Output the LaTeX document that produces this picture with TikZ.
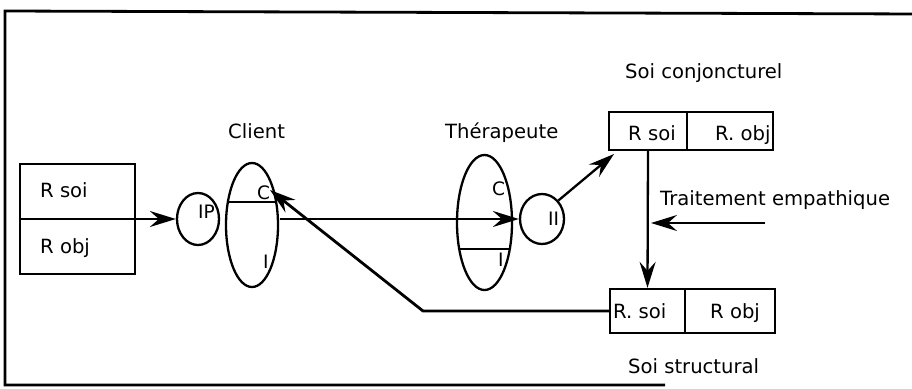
\documentclass[tikz,border=0pt]{standalone}
\usepackage{fontspec}
\setmainfont{DejaVu Sans}
\usetikzlibrary{arrows.meta,shapes.geometric,calc}
\begin{document}
\begin{tikzpicture}[x=1pt,y=-1pt,
  txt/.style={font=\fontsize{19.6}{23}\selectfont, inner sep=0pt, anchor=base west},
  stxt/.style={font=\fontsize{18.5}{22}\selectfont, inner sep=0pt, anchor=base west},
  rbox/.style={draw, line width=2.3pt, rectangle, inner sep=0pt},
  ell/.style={draw, line width=2.3pt, ellipse, inner sep=0pt},
  arr/.style={line width=2.3pt, -{Stealth[length=26pt,width=16pt,inset=9pt]}},
  plain/.style={line width=2.3pt}]
\useasboundingbox (0,0) rectangle (912,388);
% frame
\draw[line width=2.8pt] (920,14) -- (5,11) -- (5,385) -- (665,385);

% left box
\node[rbox, minimum width=115pt, minimum height=110pt] (lb) at (77.5,219) {};
\node[txt] (lbs) at (40,197) {R soi};
\node[txt] (lbo) at (40,253) {R obj};

% IP circle
\node[ell, minimum width=42pt, minimum height=52pt] (ip) at (198,219) {};
\node[stxt] (ipt) at (198,218) {IP};

% client ellipse
\node[ell, minimum width=52pt, minimum height=124pt] (cl) at (252,225) {};
\draw[plain] ($(cl.center)+(-24.1,-23)$) -- ($(cl.center)+(24.1,-23)$);
\node[stxt] (clc) at (257,199) {C};
\node[stxt] (cli) at (263,268) {I};
\node[txt] (cllab) at (228,138) {Client};

% therapist ellipse
\node[ell, minimum width=55pt, minimum height=135pt] (th) at (484.5,222.5) {};
\draw[plain] ($(th.center)+(-25.3,26.5)$) -- ($(th.center)+(25.3,26.5)$);
\node[stxt] (thc) at (492,195) {C};
\node[stxt] (thi) at (498,266) {I};
\node[txt] (thlab) at (445,138) {Thérapeute};

% II circle
\node[ell, minimum width=44pt, minimum height=50pt] (ii) at (542,219) {};
\node[stxt] (iit) at (548,225) {II};

% top box (Soi conjoncturel)
\node[rbox, minimum width=78pt, minimum height=38pt] (tbl) at (648,131) {};
\node[rbox, minimum width=86pt, minimum height=38pt] (tbr) at (730,131) {};
\node[txt] (tbls) at (628,140) {R soi};
\node[txt] (tbro) at (715,140) {R. obj};
\node[txt] (tblab) at (625,78) {Soi conjoncturel};

% bottom box (Soi structural)
\node[rbox, minimum width=75pt, minimum height=44pt] (bbl) at (647.5,311) {};
\node[rbox, minimum width=90pt, minimum height=44pt] (bbr) at (730,311) {};
\node[txt] (bbls) at (613,318) {R. soi};
\node[txt] (bbro) at (710,318) {R obj};
\node[txt] (bblab) at (628,373) {Soi structural};

% Traitement empathique
\node[txt] (telab) at (660,205) {Traitement empathique};
\coordinate (te) at (765,223);
\coordinate (tetip) at (651,223);

% connectors
\draw[arr] (lb.west) -- (ip.west);
\coordinate (c1) at (280,219);
\draw[arr] (c1) -- (ii.west);
\coordinate (tbtip) at (614,154);
\draw[arr] (ii.north east) -- (tbtip);
\draw[arr] (tbl.south) -- (bbl.north);
\draw[arr] (te) -- (tetip);
\coordinate (bend) at (423,311);
\coordinate (ctip) at (270,190);
\draw[arr, line width=2.8pt] (bbl.west) -- (bend) -- (ctip);
\end{tikzpicture}
\end{document}
